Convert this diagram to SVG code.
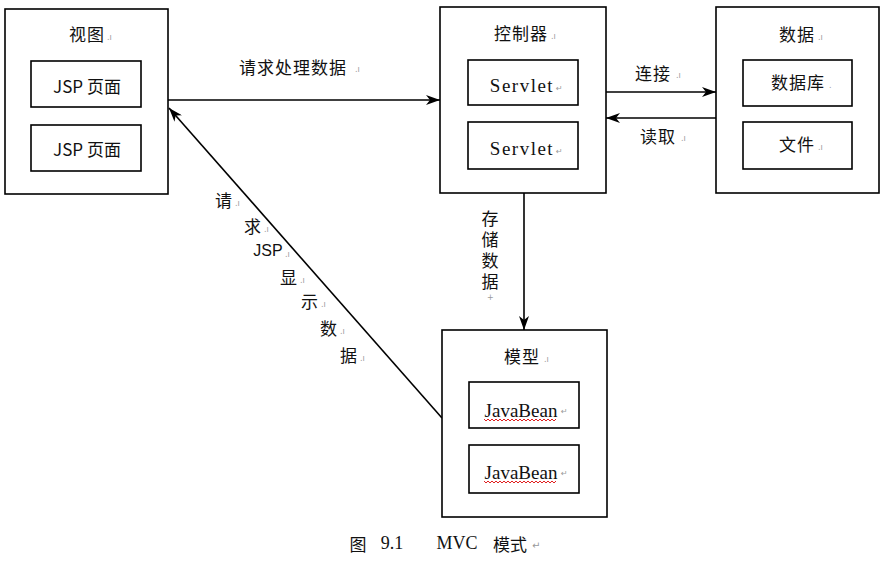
<svg xmlns="http://www.w3.org/2000/svg" width="888" height="568" viewBox="0 0 888 568">
<defs>
<style>
.box{fill:#fff;stroke:#000;stroke-width:1.6}
.in{fill:#fff;stroke:#000;stroke-width:1.6}
.cjk{font-family:"Noto Sans CJK SC","Liberation Sans",sans-serif;font-size:17px;fill:#111;text-anchor:middle;dominant-baseline:central;letter-spacing:1px}
.ser{font-family:"Liberation Serif","Noto Sans CJK SC",serif;font-size:19px;fill:#111;text-anchor:middle;dominant-baseline:central}
.pm{font-family:"DejaVu Sans",sans-serif;font-size:8px;fill:#999;dominant-baseline:central}
.line{stroke:#000;stroke-width:1.6;fill:none}
.wave{stroke:#e02020;stroke-width:1;fill:none}
</style>
<marker id="arr" viewBox="0 0 14 10" refX="14" refY="5" markerWidth="14" markerHeight="10" markerUnits="userSpaceOnUse" orient="auto">
<path d="M0,0 L14,5 L0,10 L4,5 z" fill="#000"/>
</marker>
</defs>
<rect width="888" height="568" fill="#fff"/>

<g id="connectors">
<line class="line" x1="168" y1="100" x2="440" y2="100" marker-end="url(#arr)"/>
<line class="line" x1="606" y1="92" x2="716" y2="92" marker-end="url(#arr)"/>
<line class="line" x1="716" y1="118" x2="606" y2="118" marker-end="url(#arr)"/>
<line class="line" x1="524" y1="193" x2="524" y2="330" marker-end="url(#arr)"/>
<line class="line" x1="442" y1="418" x2="169" y2="108" marker-end="url(#arr)"/>
<text class="cjk" x="293" y="66">请求处理数据</text><text class="pm" x="355" y="69">.ı</text>
<text class="cjk" x="653" y="72">连接</text><text class="pm" x="676" y="75">.ı</text>
<text class="cjk" x="658" y="135">读取</text><text class="pm" x="681" y="138">.ı</text>
<text x="490" y="252" writing-mode="vertical-rl" style="font-family:'Noto Sans CJK SC',sans-serif;font-size:17px;fill:#111;text-anchor:middle;letter-spacing:4px">存储数据</text>
<text class="pm" x="487" y="297">+</text>
<text class="cjk" x="224" y="199">请</text><text class="pm" x="235" y="203">.ı</text>
<text class="cjk" x="253" y="225">求</text><text class="pm" x="264" y="229">.ı</text>
<text class="cjk" x="268" y="250" style="font-family:'Liberation Sans',sans-serif;font-size:16px;letter-spacing:0">JSP</text><text class="pm" x="285" y="254">.ı</text>
<text class="cjk" x="289" y="276">显</text><text class="pm" x="300" y="280">.ı</text>
<text class="cjk" x="310" y="300">示</text><text class="pm" x="321" y="304">.ı</text>
<text class="cjk" x="329" y="327">数</text><text class="pm" x="340" y="331">.ı</text>
<text class="cjk" x="349" y="354">据</text><text class="pm" x="360" y="358">.ı</text>
</g>

<g id="view">
<rect class="box" x="5" y="9" width="163" height="185"/>
<text class="cjk" x="87" y="33">视图</text><text class="pm" x="107" y="37">.ı</text>
<rect class="in" x="31" y="61" width="110" height="46"/>
<text class="cjk" x="87" y="85" style="letter-spacing:0">JSP 页面</text>
<rect class="in" x="31" y="125" width="110" height="46"/>
<text class="cjk" x="87" y="148" style="letter-spacing:0">JSP 页面</text>
</g>

<g id="controller">
<rect class="box" x="440" y="7" width="166" height="186"/>
<text class="cjk" x="521" y="32">控制器</text><text class="pm" x="551" y="36">.ı</text>
<rect class="in" x="468" y="60" width="110" height="45"/>
<text class="ser" x="522" y="85" style="letter-spacing:1.5px">Servlet</text><text class="pm" x="556" y="88">↵</text>
<rect class="in" x="468" y="122" width="110" height="47"/>
<text class="ser" x="522" y="148" style="letter-spacing:1.5px">Servlet</text><text class="pm" x="556" y="151">↵</text>
</g>

<g id="data">
<rect class="box" x="716" y="7" width="163" height="186"/>
<text class="cjk" x="797" y="33">数据</text><text class="pm" x="818" y="37">.ı</text>
<rect class="in" x="743" y="60" width="109" height="46"/>
<text class="cjk" x="798" y="81">数据库</text><text class="pm" x="829" y="85">.</text>
<rect class="in" x="743" y="122" width="109" height="47"/>
<text class="cjk" x="797" y="143">文件</text><text class="pm" x="818" y="147">.ı</text>
</g>

<g id="model">
<rect class="box" x="442" y="330" width="165" height="187"/>
<text class="cjk" x="522" y="355">模型</text><text class="pm" x="544" y="359">.ı</text>
<rect class="in" x="469" y="382" width="110" height="46"/>
<text class="ser" x="521" y="410">JavaBean</text><text class="pm" x="561" y="411">↵</text>
<path class="wave" d="M484,419 l2,2 l2,-2 l2,2 l2,-2 l2,2 l2,-2 l2,2 l2,-2 l2,2 l2,-2 l2,2 l2,-2 l2,2 l2,-2 l2,2 l2,-2 l2,2 l2,-2 l2,2 l2,-2 l2,2 l2,-2 l2,2 l2,-2 l2,2 l2,-2 l2,2 l2,-2 l2,2 l2,-2 l2,2 l2,-2 l2,2 l2,-2 l2,2 l2,-2"/>
<rect class="in" x="469" y="445" width="110" height="48"/>
<text class="ser" x="521" y="472">JavaBean</text><text class="pm" x="561" y="473">↵</text>
<path class="wave" d="M484,481 l2,2 l2,-2 l2,2 l2,-2 l2,2 l2,-2 l2,2 l2,-2 l2,2 l2,-2 l2,2 l2,-2 l2,2 l2,-2 l2,2 l2,-2 l2,2 l2,-2 l2,2 l2,-2 l2,2 l2,-2 l2,2 l2,-2 l2,2 l2,-2 l2,2 l2,-2 l2,2 l2,-2 l2,2 l2,-2 l2,2 l2,-2 l2,2 l2,-2"/>
</g>

<g id="caption">
<text class="cjk" x="358" y="543" style="font-family:'Noto Sans CJK SC',serif;letter-spacing:0">图</text>
<text class="ser" x="392" y="543" style="font-size:18px">9.1</text>
<text class="ser" x="457" y="543" style="font-size:18px">MVC</text>
<text class="cjk" x="510" y="543" style="letter-spacing:0">模式</text>
<text class="pm" x="532" y="545" style="font-size:10px">↵</text>
</g>
</svg>
